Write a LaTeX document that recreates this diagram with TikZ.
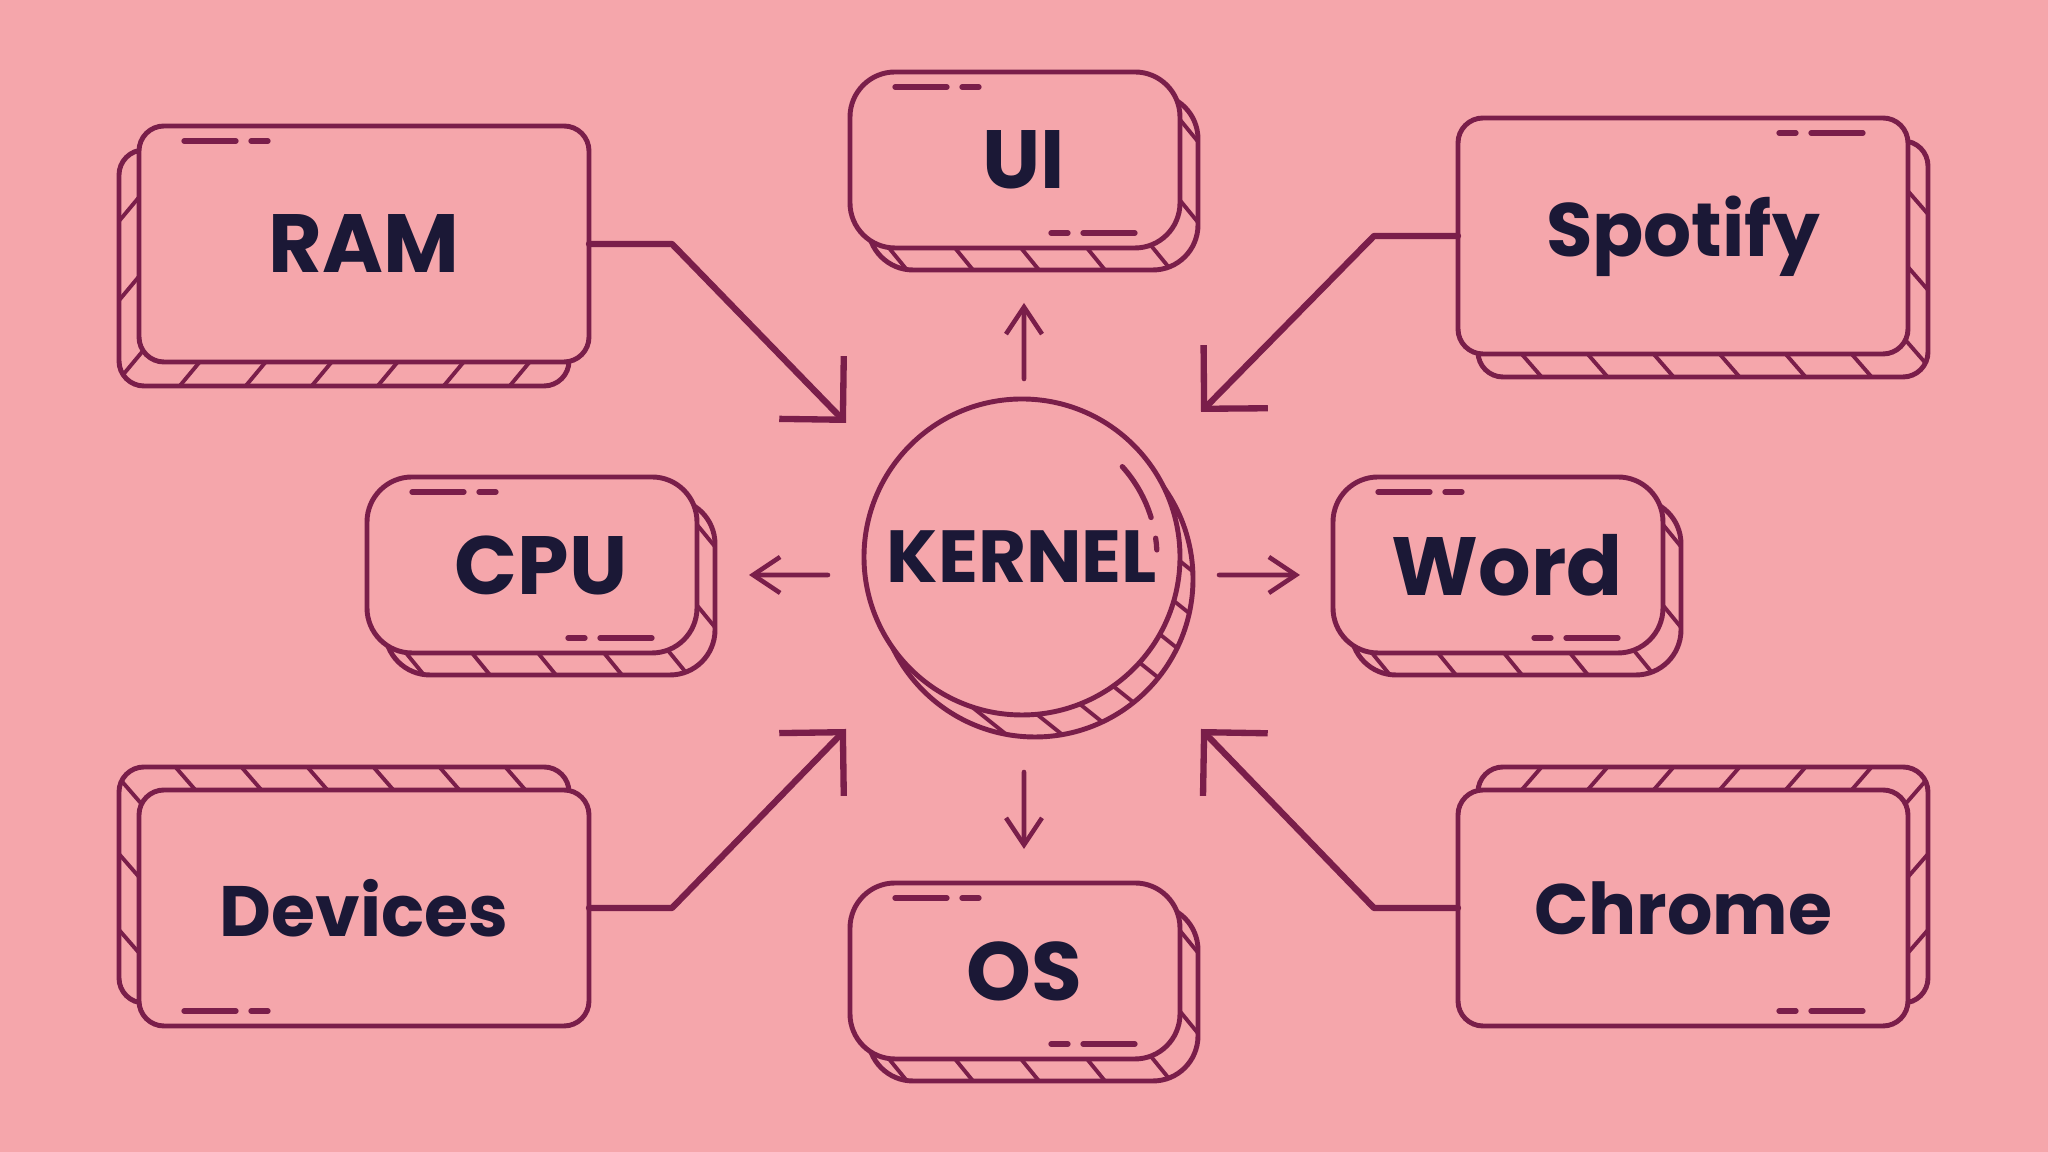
\documentclass[tikz,border=0pt]{standalone}
\usepackage{fontspec}
\setmainfont{Poppins}
\usepackage{tikz}
\usetikzlibrary{arrows.meta,positioning,calc,backgrounds}
\definecolor{paper}{HTML}{F5A6AB}
\definecolor{plum}{HTML}{7A1E4A}
\definecolor{ink}{HTML}{1B1836}
\newcommand{\labelfont}{\fontsize{23.5}{28}\selectfont\bfseries}
\newcommand{\midfont}{\fontsize{21.5}{26}\selectfont\bfseries}
\newcommand{\smallfont}{\fontsize{20.3}{25}\selectfont\bfseries}
\newcommand{\kernfont}{\fontsize{21}{25}\selectfont\bfseries}
% back plate of a card: node, shift x, shift y, corner radius
\newcommand{\shadowcard}[4]{%
  \begin{scope}[on background layer]
    \begin{scope}
      \clip[rounded corners=#4] ($(#1.south west)+(#2,#3)$) rectangle ($(#1.north east)+(#2,#3)$);
      \foreach \k in {-9,...,9}
        \draw[hatch] ($(#1.center)+(\k*0.66,0)+({-15*(#2)},{-15*(#3)})$) -- ++({30*(#2)},{30*(#3)});
    \end{scope}
    \draw[edge, rounded corners=#4] ($(#1.south west)+(#2,#3)$) rectangle ($(#1.north east)+(#2,#3)$);
  \end{scope}}
% two small strokes near a corner
\newcommand{\glint}[3]{%
  \draw[glare] ($(#1)+({0.45*#2},{0.15*#3})$) -- ++({0.52*#2},0);
  \draw[glare] ($(#1)+({1.12*#2},{0.15*#3})$) -- ++({0.17*#2},0);}

\begin{document}
\begin{tikzpicture}[>=Stealth,
  edge/.style={draw=plum, line width=1.4pt},
  hatch/.style={draw=plum, line width=1.1pt},
  glare/.style={draw=plum, line width=1.5pt, line cap=round},
  card/.style={edge, fill=paper, text=ink, outer sep=0pt, rounded corners=0.25cm, minimum width=4.5cm, minimum height=2.36cm},
  pill/.style={edge, fill=paper, text=ink, outer sep=0pt, rounded corners=0.45cm, minimum width=3.3cm, minimum height=1.76cm},
  link/.style={draw=plum, line width=1.8pt, line cap=round, line join=round, -{Straight Barb[length=0.45cm, width=0.9cm]}},
  hint/.style={draw=plum, line width=1.3pt, line cap=round, -{Straight Barb[length=0.27cm, width=0.36cm]}}]

\begin{scope}[on background layer]
  \fill[paper] (0,0) rectangle (20.48,11.52);
\end{scope}
\useasboundingbox (0,0) rectangle (20.48,11.52);

\node[circle, edge, fill=paper, text=ink, inner sep=0pt, outer sep=0pt, minimum size=3.16cm, font=\kernfont] (kernel) at (10.22,5.95) {KERNEL};

\node[card, font=\labelfont] (ram) at (3.64,9.08) {RAM};
\node[pill, font=\labelfont] (ui) at (10.15,9.92) {\hspace*{0.18cm}UI};
\node[card, font=\midfont] (spotify) at (16.83,9.16) {Spotify};
\node[pill, font=\labelfont] (cpu) at (5.32,5.87) {\hspace*{0.18cm}CPU};
\node[pill, font=\labelfont] (word) at (14.98,5.87) {\hspace*{0.18cm}Word};
\node[card, font=\smallfont] (devices) at (3.64,2.44) {Devices};
\node[pill, font=\labelfont] (os) at (10.15,1.81) {\hspace*{0.18cm}OS};
\node[card, font=\smallfont] (chrome) at (16.83,2.44) {Chrome};

% back plates
\shadowcard{ram}{-0.2}{-0.24}{0.25cm}
\shadowcard{ui}{0.18}{-0.22}{0.45cm}
\shadowcard{spotify}{0.2}{-0.23}{0.25cm}
\shadowcard{cpu}{0.18}{-0.22}{0.45cm}
\shadowcard{word}{0.18}{-0.22}{0.45cm}
\shadowcard{devices}{-0.2}{0.23}{0.25cm}
\shadowcard{os}{0.18}{-0.22}{0.45cm}
\shadowcard{chrome}{0.2}{0.23}{0.25cm}

\begin{scope}[on background layer]
  \begin{scope}
    \clip ($(kernel)+(0.13,-0.22)$) circle (1.58);
    \foreach \k in {-8,...,8}
      \draw[hatch] ($(kernel)+(0.13,-0.22)+(\k*0.22,\k*0.27)+(-2,1.6)$) -- ++(4,-3.2);
  \end{scope}
  \draw[edge] ($(kernel)+(0.13,-0.22)$) circle (1.58);
\end{scope}
\draw[glare] ($(kernel)+(42:1.35)$) arc[start angle=42, end angle=17, radius=1.35];
\draw[glare] ($(kernel)+(8:1.35)$) arc[start angle=8, end angle=3, radius=1.35];

\glint{ram.north west}{1}{-1}
\glint{ui.north west}{1}{-1}
\glint{ui.south east}{-1}{1}
\glint{spotify.north east}{-1}{-1}
\glint{cpu.north west}{1}{-1}
\glint{cpu.south east}{-1}{1}
\glint{word.north west}{1}{-1}
\glint{word.south east}{-1}{1}
\glint{devices.south west}{1}{1}
\glint{os.north west}{1}{-1}
\glint{os.south east}{-1}{1}
\glint{chrome.south east}{-1}{1}

% connectors
\coordinate (ramtip) at (8.46,7.29);
\coordinate (spotifytip) at (12.01,7.40);
\coordinate (devicestip) at (8.46,4.23);
\coordinate (chrometip) at (12.01,4.23);
\draw[link] (ram.east) -- ++(0.83,0) -- (ramtip);
\draw[link] (spotify.west) -- ++(-0.84,0) -- (spotifytip);
\draw[link] (devices.east) -- ++(0.83,0) -- (devicestip);
\draw[link] (chrome.west) -- ++(-0.84,0) -- (chrometip);

\draw[hint] ($(kernel.north)+(0.02,0.2)$) -- ($(ui.south)+(0.09,-0.55)$);
\draw[hint] ($(kernel.south)+(0.02,-0.57)$) -- ($(os.north)+(0.09,0.34)$);
\draw[hint] ($(kernel.west)+(-0.36,-0.18)$) -- ($(cpu.east)+(0.52,-0.1)$);
\draw[hint] ($(kernel.east)+(0.39,-0.18)$) -- ($(word.west)+(-0.33,-0.1)$);
\end{tikzpicture}
\end{document}
